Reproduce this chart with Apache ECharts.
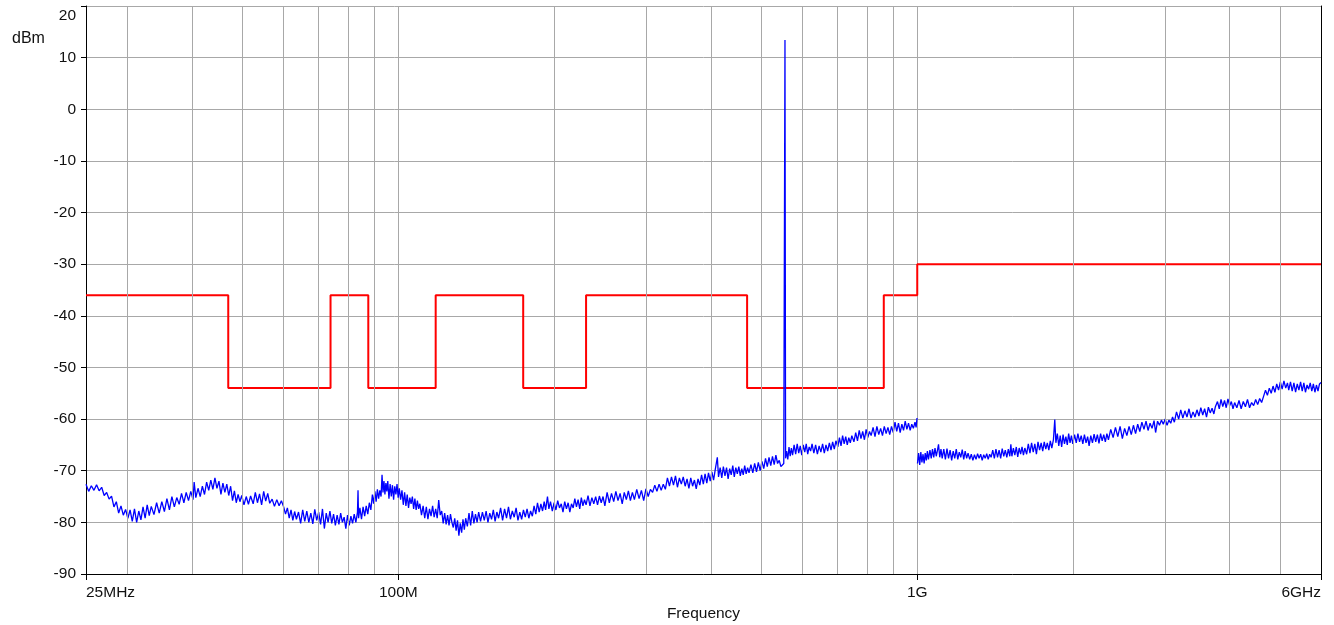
<!DOCTYPE html>
<html>
<head>
<meta charset="utf-8">
<script src="https://cdn.jsdelivr.net/npm/echarts@6/dist/echarts.min.js"></script>
<style>
html,body{margin:0;padding:0;background:#fff;}
#chart{width:1334px;height:625px;}
</style>
</head>
<body>
<div id="chart"></div>
<script>
// ---- data (frequency in MHz, level in dBm) ----
const xTickValues = [25, 100, 1000, 6000];
const xTickLabels = ['25MHz', '100M', '1G', '6GHz'];
const minorGridFreqs = [30, 40, 50, 60, 70, 80, 90, 200, 300, 400, 500, 600, 700, 800, 900, 2000, 3000, 4000, 5000];

// limit mask: level holds from edge i to edge i+1
const limitEdges = [25, 47, 74, 87.5, 118, 174, 230, 470, 862, 1000, 6000];
const limitLevels = [-36, -54, -36, -54, -36, -54, -36, -54, -36, -30];

// measured spectrum trace
const traceBelow1G = [
[25,-72.6],[25.3,-74.0],[25.6,-72.9],[25.9,-73.8],[26.2,-72.7],[26.5,-73.9],[26.8,-73.2],[27.1,-74.8],[27.4,-74.2],[27.7,-75.5],[28,-74.9],[28.3,-77.0],[28.6,-76.0],[28.9,-78.2],[29.2,-76.8],[29.5,-78.6],[29.8,-77.5],
[30.1,-79.2],[30.4,-77.6],[30.7,-79.8],[31,-77.4],[31.3,-80.0],[31.6,-77.8],[31.9,-79.5],
[32.2,-77.0],[32.5,-79.2],[32.8,-76.6],[33.1,-78.7],[33.4,-76.9],
[33.8,-78.5],[34.2,-76.2],[34.6,-78.2],[35,-76.0],[35.4,-77.9],
[35.8,-75.4],[36.2,-77.6],[36.6,-75.0],[37,-77.0],[37.4,-75.2],
[37.8,-76.5],[38.2,-74.4],[38.6,-76.2],[39,-74.2],[39.4,-75.8],[39.8,-74.0],
[40.2,-75.6],[40.4,-72.2],[40.7,-75.2],[41.1,-73.4],[41.5,-75.0],[41.9,-73.0],[42.3,-74.6],
[42.7,-72.2],[43.1,-73.8],[43.5,-71.8],[43.9,-73.6],[44.3,-71.4],[44.7,-73.4],
[45.1,-72.0],[45.5,-74.6],[45.9,-72.4],[46.3,-74.2],[46.7,-72.6],[47.1,-74.8],[47.5,-73.0],
[47.9,-75.8],[48.3,-73.9],[48.7,-76.2],[49.1,-74.6],[49.5,-76.0],[49.9,-74.8],
[50.4,-76.6],[50.9,-75.0],[51.4,-76.5],[51.9,-74.9],
[52.5,-76.4],[53,-74.2],[53.5,-76.2],[54,-74.5],[54.5,-76.6],[55,-74.0],[55.5,-75.9],[56,-74.4],[56.5,-76.3],
[57.1,-75.5],[57.7,-76.9],[58.3,-75.6],[58.9,-76.8],[59.5,-75.8],[60.1,-77.0],
[60.6,-78.4],[61.1,-77.2],[61.6,-79.2],[62.1,-77.6],[62.6,-79.6],[63.1,-77.9],[63.6,-79.4],
[64.2,-78.0],[64.8,-80.2],[65.4,-77.6],[66,-79.8],[66.6,-77.8],[67.2,-80.0],[67.8,-78.2],[68.4,-80.3],[69,-77.5],[69.6,-79.6],
[70.2,-78.0],[70.8,-80.4],[71.4,-77.4],[72,-81.2],[72.6,-78.2],[73.2,-80.0],[73.8,-77.8],
[74.4,-80.2],[75,-78.4],[75.6,-80.6],[76.2,-78.6],[76.8,-80.4],[77.4,-78.2],[78,-80.0],[78.6,-79.0],
[79.2,-81.2],[79.8,-78.6],[80.4,-80.6],[81,-78.8],[81.6,-80.2],[82.2,-78.4],[82.8,-80.0],[83.4,-78.0],[83.6,-73.8],[83.8,-79.2],
[84.3,-77.2],[84.9,-79.4],[85.5,-77.0],[86.1,-78.8],[86.7,-76.8],[87.3,-78.4],[87.9,-76.2],[88.5,-77.6],
[89.1,-74.6],[89.6,-76.4],[90.1,-74.0],[90.6,-76.0],[91.1,-73.6],[91.6,-75.4],[92.1,-73.8],[92.6,-75.0],
[93,-70.8],[93.4,-74.2],[93.8,-72.0],[94.2,-74.6],[94.6,-72.4],[95,-74.0],[95.4,-72.0],
[95.9,-75.4],[96.4,-72.6],[96.9,-75.0],[97.4,-72.8],[97.9,-75.6],[98.4,-73.0],[98.9,-74.6],[99.4,-72.6],[99.9,-75.2],
[100.4,-73.4],[101,-75.6],[101.6,-73.8],[102.2,-76.6],[102.8,-74.2],[103.4,-76.8],[104,-74.6],[104.6,-77.2],[105.2,-75.2],[105.8,-76.4],[106.4,-75.0],[107,-77.4],
[107.6,-75.4],[108.2,-77.6],[108.8,-75.8],[109.4,-77.4],[110,-76.4],
[110.8,-78.6],[111.6,-76.8],[112.4,-79.2],[113.2,-77.0],[114,-79.4],[114.8,-77.4],[115.6,-78.8],[116.4,-76.8],
[117.2,-79.0],[118,-77.4],[118.8,-79.2],[119.6,-75.7],[120.4,-78.6],[121.2,-77.8],
[122,-80.2],[122.8,-78.2],[123.6,-80.4],[124.4,-78.6],[125.2,-80.6],[126,-78.4],[126.8,-80.0],
[127.6,-81.0],[128.4,-79.2],[129.2,-81.6],[130,-79.6],[130.8,-82.6],[131.6,-80.2],[132.4,-82.0],[133.2,-79.4],[134,-81.4],[134.8,-79.2],
[135.8,-80.8],[136.8,-78.2],[137.8,-80.6],[138.8,-77.8],[139.8,-80.2],[140.8,-78.4],[141.8,-80.0],[142.8,-78.0],
[144,-79.8],[145.2,-78.0],[146.4,-79.6],[147.6,-77.8],[148.8,-80.0],[150,-78.2],[151.2,-79.4],[152.4,-77.6],[153.6,-79.8],[154.8,-78.0],[156,-79.2],
[157.4,-77.2],[158.8,-79.6],[160.2,-77.4],[161.6,-79.2],[163,-77.0],[164.4,-79.4],[165.8,-77.8],[167.2,-79.0],[168.6,-77.2],[170,-79.6],
[171.4,-78.0],[172.8,-79.4],[174.2,-77.6],[175.6,-79.0],[177,-77.4],[178.4,-79.2],[179.8,-77.8],[181.2,-78.8],
[182.6,-76.8],[184,-78.4],[185.4,-76.2],[186.8,-78.0],[188.2,-76.4],[189.6,-77.8],[191,-76.0],[192.2,-77.6],
[193.8,-75.0],[195,-77.4],
[196.4,-76.0],[198,-77.8],[199.6,-76.2],[201.2,-77.6],[202.8,-75.8],[204.4,-77.2],[206,-76.4],[207.6,-78.0],[209.2,-76.0],[210.8,-77.4],[212.4,-76.2],[214,-78.0],[215.6,-76.4],
[217.2,-77.2],[218.8,-75.4],[220.4,-77.0],[222,-75.6],[223.6,-77.4],[225.2,-75.2],[226.8,-76.8],[228.4,-75.6],
[230,-76.6],[232,-74.8],[234,-76.8],[236,-75.2],[238,-76.4],[240,-75.0],[242,-76.6],[244,-74.9],[246,-76.2],[248,-75.0],[250,-76.8],
[252.5,-74.2],[255,-76.2],[257.5,-74.4],[260,-76.0],[262.5,-74.0],[265,-75.8],[267.5,-74.4],[270,-76.4],[272.5,-74.2],[275,-75.6],[277.5,-73.9],[280,-75.8],[282.5,-74.2],
[285,-75.6],[288,-73.6],[291,-75.4],[294,-73.8],[297,-75.8],[300,-73.5],[303,-75.0],[306,-73.6],
[309,-74.2],[312,-72.8],[315,-74.0],[318,-72.6],[321,-73.8],[324,-72.6],[327,-73.6],
[330,-71.4],[333,-73.0],[336,-71.2],[339,-72.8],[342,-71.0],[345,-73.2],[348,-71.4],[351,-72.6],[354,-71.2],[357,-73.0],
[360,-71.6],[363,-73.4],[366,-71.4],[369,-73.0],[372,-71.8],[375,-73.5],[378,-71.6],
[381,-72.8],[384,-70.8],[387,-72.6],[390,-70.6],[393,-72.4],[396,-70.4],[399,-72.0],[402,-70.2],[405,-71.8],[408,-69.8],[411.8,-67.4],[414,-71.2],[417,-69.4],
[420,-71.4],[423,-69.2],[426,-71.0],[429,-69.4],[432,-71.6],[435,-69.6],[438,-70.8],[441,-69.0],[444,-71.2],[447,-69.4],[450,-70.6],[453,-69.2],[456,-71.0],[459,-69.6],[462,-70.8],[465,-69.0],[468,-70.6],[471,-69.4],[474,-70.4],
[478,-68.8],[482,-70.4],[486,-68.6],[490,-70.2],[494,-68.4],[498,-70.0],
[502,-68.2],[506,-69.6],[510,-67.6],[514,-69.2],[518,-67.4],[522,-69.0],[526,-67.2],[530,-68.8],[534,-67.0],[538,-68.6],
[542,-68.0],[546,-69.2],[550,-69.4],[553,-68.6],[554.5,-68.8],[556,13.4],[557.5,-67.6],
[560,-66.2],[563,-67.8],[566,-65.4],[569,-67.2],[572,-65.6],[575,-67.0],
[579,-65.0],[583,-66.8],[587,-64.8],[591,-66.6],[595,-65.2],[599,-67.0],[603,-65.0],[607,-66.4],[611,-64.8],[615,-66.8],[619,-65.4],[623,-66.2],[627,-64.8],
[632,-66.6],[637,-65.0],[642,-66.8],[647,-65.2],[652,-66.4],[657,-64.8],[662,-66.6],[667,-65.0],[672,-66.2],[677,-64.6],[682,-66.0],[687,-64.4],[692,-65.8],[697,-64.2],
[703,-65.4],[708,-63.6],[713,-65.2],[718,-63.2],[723,-64.8],[728,-63.4],[733,-65.0],[738,-63.6],[743,-64.6],[748,-63.2],
[755,-64.4],[761,-62.6],[767,-64.2],[773,-62.2],[779,-63.8],[785,-62.4],[791,-64.0],[797,-62.0],[803,-63.6],[809,-62.4],[815,-63.2],
[822,-61.6],[829,-63.4],[836,-61.4],[843,-63.0],[850,-61.8],[857,-63.2],[864,-61.4],[871,-62.8],[878,-61.6],[885,-63.0],[892,-61.4],[899,-62.6],
[906,-60.6],[913,-62.4],[920,-60.8],[927,-62.6],[934,-61.0],[941,-62.2],[948,-60.4],[955,-62.0],[962,-60.8],[969,-62.2],[976,-61.0],[983,-61.8],[990,-60.6],[995,-61.6],[999,-59.8]
];
const traceAbove1G = [
[1001,-68.6],[1006,-66.6],[1011,-68.9],[1016,-66.4],[1021,-68.4],[1026,-66.8],[1031,-68.6],[1036,-66.6],[1041,-68.0],[1046,-66.2],[1051,-67.8],
[1058,-66.0],[1064,-67.6],[1070,-65.8],[1076,-67.4],[1082,-65.6],[1088,-67.2],[1094,-66.0],[1099,-64.9],[1105,-67.4],[1111,-65.8],[1117,-67.6],
[1125,-65.8],[1133,-67.8],[1141,-65.7],[1149,-67.6],[1157,-66.0],[1165,-68.0],[1173,-66.2],[1181,-67.6],[1189,-65.8],[1197,-67.8],[1205,-66.4],[1213,-67.4],[1221,-65.9],[1229,-67.8],[1237,-66.2],[1245,-67.6],[1253,-66.6],
[1262,-67.8],[1271,-66.8],[1280,-68.0],[1289,-66.9],[1298,-67.8],[1307,-66.7],[1316,-67.6],[1325,-66.8],[1334,-68.0],[1343,-66.9],[1352,-67.6],[1361,-66.7],[1370,-67.8],[1379,-66.8],[1388,-67.4],
[1398,-66.0],[1408,-67.6],[1418,-65.8],[1428,-67.4],[1438,-66.0],[1448,-67.6],[1458,-65.7],[1468,-67.2],[1478,-66.0],[1488,-67.4],[1498,-65.8],[1508,-67.2],[1515,-64.9],
[1522,-67.2],[1532,-65.6],[1542,-67.0],[1552,-65.4],[1562,-67.3],[1572,-65.6],[1582,-66.8],[1592,-65.4],[1602,-67.0],[1612,-65.6],
[1625,-66.8],[1637,-64.8],[1649,-66.6],[1661,-64.6],[1673,-66.4],[1685,-64.8],[1697,-66.8],[1709,-64.4],[1721,-66.0],[1733,-64.6],[1745,-66.2],[1757,-64.4],[1769,-65.8],[1781,-64.6],[1793,-66.0],[1805,-64.2],[1817,-65.6],
[1830,-64.0],[1841,-60.1],[1850,-64.6],
[1862,-62.8],[1874,-65.2],[1886,-63.2],[1898,-65.4],[1910,-63.0],[1922,-64.8],[1934,-63.4],[1946,-65.0],[1958,-62.8],[1970,-64.6],[1982,-63.2],[1994,-64.8],
[2010,-63.0],[2025,-64.6],[2040,-62.8],[2055,-64.4],[2070,-63.2],[2085,-64.8],[2100,-63.0],[2115,-64.6],[2130,-63.4],[2144,-65.2],
[2160,-63.2],[2176,-64.6],[2192,-62.9],[2208,-64.4],[2224,-63.0],[2240,-64.7],[2256,-62.8],[2272,-64.2],[2288,-63.0],[2304,-64.4],[2320,-62.8],[2336,-64.0],
[2360,-62.0],[2385,-63.6],[2410,-61.6],[2435,-63.4],[2460,-61.4],[2485,-63.8],[2510,-61.8],[2535,-63.2],[2560,-61.4],[2585,-63.0],[2610,-61.2],[2635,-62.8],
[2660,-61.0],[2685,-62.4],[2710,-60.6],[2735,-62.0],[2760,-60.4],[2785,-62.2],[2810,-60.8],[2835,-61.8],[2860,-60.3],[2880,-62.6],
[2905,-60.4],[2930,-61.2],[2955,-60.2],[2980,-61.0],[3005,-60.0],[3030,-61.2],[3055,-60.2],[3080,-60.8],[3105,-59.6],[3130,-60.6],
[3160,-58.6],[3190,-60.0],[3220,-58.2],[3250,-59.8],[3280,-58.4],[3310,-59.6],[3340,-58.0],[3370,-59.8],[3400,-58.6],[3430,-59.6],
[3460,-58.2],[3490,-59.4],[3520,-57.8],[3550,-59.2],[3580,-58.0],[3610,-59.6],[3640,-57.7],[3670,-58.8],[3700,-57.9],[3730,-59.0],[3755,-57.6],
[3790,-56.6],[3820,-58.0],[3850,-56.2],[3880,-57.6],[3910,-56.4],[3940,-57.8],[3970,-56.1],[4000,-57.4],[4030,-56.6],[4060,-58.0],[4090,-56.8],
[4130,-57.8],[4170,-56.4],[4210,-58.0],[4250,-56.6],[4290,-57.6],[4330,-56.2],[4370,-57.8],[4410,-56.8],[4450,-57.4],[4490,-56.2],[4530,-57.2],[4570,-56.0],[4610,-56.8],
[4650,-55.6],[4690,-54.4],[4730,-55.4],[4770,-54.0],[4810,-55.0],[4850,-53.6],[4890,-54.8],
[4930,-53.2],[4970,-54.4],[5010,-52.8],[5050,-54.2],[5090,-52.6],[5130,-54.0],[5170,-53.0],[5200,-54.4],
[5240,-52.8],[5280,-54.6],[5320,-53.0],[5360,-54.8],[5400,-53.2],[5440,-54.4],[5480,-52.8],[5520,-54.6],[5560,-53.0],[5600,-54.8],[5640,-53.4],[5680,-54.2],[5720,-53.0],[5760,-54.6],[5800,-53.2],[5840,-54.8],[5880,-53.4],[5920,-54.6],[5960,-53.2],[6000,-52.9]
];

// ---- build chart ----
const limitData = limitLevels.map((lv, i) => [limitEdges[i], lv]);
limitData.push([limitEdges[limitEdges.length - 1], limitLevels[limitLevels.length - 1]]);
const traceData = traceBelow1G.concat([[1000, '-']], traceAbove1G);

const FONT = 'Liberation Sans, Arial, sans-serif';
const FS = 15.5;
const GRID_COLOR = '#a8a8a8';

const chart = echarts.init(document.getElementById('chart'), null, {renderer: 'canvas'});
chart.setOption({
  animation: false,
  backgroundColor: '#ffffff',
  title: {
    text: 'dBm', left: 7, top: 26,
    textStyle: {fontFamily: FONT, fontSize: 16, fontWeight: 'normal', color: '#111'}
  },
  grid: {left: 86, right: 13, top: 6, bottom: 51, containLabel: false, outerBoundsMode: 'none'},
  xAxis: {
    type: 'log', logBase: 10, min: 25, max: 6000,
    name: 'Frequency', nameLocation: 'middle', nameGap: 29,
    nameTextStyle: {fontFamily: FONT, fontSize: FS, color: '#111'},
    axisLine: {show: true, onZero: false, lineStyle: {color: '#000', width: 1}},
    axisTick: {show: true, length: 6, inside: false, customValues: xTickValues, lineStyle: {color: '#000'}},
    axisLabel: {
      fontFamily: FONT, fontSize: FS, color: '#111', margin: 11,
      customValues: xTickValues,
      alignMinLabel: 'left', alignMaxLabel: 'right',
      formatter: v => {
        const i = xTickValues.findIndex(t => Math.abs(t - v) / t < 1e-6);
        return i >= 0 ? xTickLabels[i] : '';
      }
    },
    splitLine: {show: true, lineStyle: {color: GRID_COLOR, width: 1}},
    minorTick: {show: false}, minorSplitLine: {show: false}
  },
  yAxis: [{
    type: 'value', min: -90, max: 20, interval: 10,
    axisLine: {show: true, onZero: false, lineStyle: {color: '#000', width: 1}},
    axisTick: {show: true, length: 5, lineStyle: {color: '#000'}},
    axisLabel: {
      fontFamily: FONT, fontSize: FS, color: '#111', margin: 10,
      formatter: v => v === 20 ? '{t|20}' : String(v),
      rich: {t: {fontFamily: FONT, fontSize: FS, color: '#111', padding: [20, 0, 0, 0]}}
    },
    splitLine: {show: true, lineStyle: {color: GRID_COLOR, width: 1}}
  }, {
    type: 'value', min: -90, max: 20, position: 'right',
    axisLine: {show: true, onZero: false, lineStyle: {color: '#000', width: 1}},
    axisTick: {show: false}, axisLabel: {show: false}, splitLine: {show: false}
  }],
  series: [
    {
      name: 'grid', type: 'line', data: [], z: 1, silent: true,
      markLine: {
        silent: true, symbol: ['none', 'none'], label: {show: false},
        lineStyle: {color: GRID_COLOR, width: 1, type: 'solid'},
        emphasis: {disabled: true},
        data: minorGridFreqs.map(f => ({xAxis: f}))
      }
    },
    {
      name: 'Limit', type: 'line', step: 'end', data: limitData, z: 3,
      showSymbol: false, symbol: 'none',
      lineStyle: {color: '#ff0000', width: 2}
    },
    {
      name: 'Trace', type: 'line', data: traceData, z: 4,
      showSymbol: false, symbol: 'none', connectNulls: false,
      lineStyle: {color: '#0000ff', width: 1.3}
    }
  ]
});
</script>
</body>
</html>
